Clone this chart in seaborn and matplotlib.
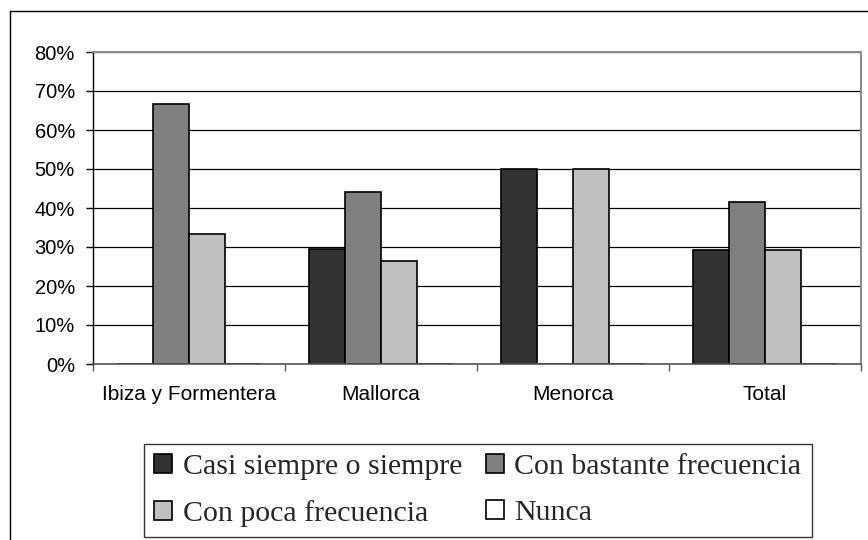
import matplotlib
matplotlib.use("Agg")
import matplotlib.pyplot as plt
import matplotlib.patches as mpatches
from matplotlib.ticker import FuncFormatter, FixedLocator
import seaborn as sns
import pandas as pd

categories = ["Ibiza y Formentera", "Mallorca", "Menorca", "Total"]
series = ["Casi siempre o siempre", "Con bastante frecuencia", "Con poca frecuencia", "Nunca"]
casi_siempre = [0.0, 29.4, 50.0, 29.3]
bastante = [66.7, 44.1, 0.0, 41.5]
poca = [33.3, 26.5, 50.0, 29.3]
nunca = [0.0, 0.0, 0.0, 0.0]
colors = ["#333333", "#808080", "#c0c0c0", "#ffffff"]
y_ticks = [0, 10, 20, 30, 40, 50, 60, 70, 80]

rows = []
for s, vals in zip(series, [casi_siempre, bastante, poca, nunca]):
    for c, v in zip(categories, vals):
        rows.append({"cat": c, "serie": s, "val": v})
df = pd.DataFrame(rows)

sns.set_theme(style="white")
plt.rcParams["font.family"] = ["Liberation Sans", "DejaVu Sans"]

fig = plt.figure(figsize=(8.68, 5.4), dpi=100)
ax = fig.add_axes([93/868, 1 - 364/540, (861 - 93)/868, (364 - 52)/540])

sns.barplot(data=df, x="cat", y="val", hue="serie", order=categories, hue_order=series,
            palette=colors, width=0.75, gap=0, saturation=1, edgecolor="black",
            linewidth=1.2, ax=ax, errorbar=None)

ax.set_ylim(0, 80)
ax.set_xlim(-0.5, len(categories) - 0.5)
ax.set_yticks(y_ticks)
ax.yaxis.set_major_formatter(FuncFormatter(lambda v, p: f"{v:.0f}%"))
ax.set_xlabel("")
ax.set_ylabel("")
ax.set_axisbelow(True)
ax.yaxis.grid(True, color="black", linewidth=0.9)
ax.xaxis.grid(False)

for side in ["top", "right"]:
    ax.spines[side].set_visible(True)
    ax.spines[side].set_color("#8c8c8c")
    ax.spines[side].set_linewidth(1.5)
ax.spines["left"].set_color("black")
ax.spines["left"].set_linewidth(1.0)
ax.spines["bottom"].set_color("#555555")
ax.spines["bottom"].set_linewidth(1.2)

ax.tick_params(axis="y", which="major", left=True, length=5, width=1, color="black",
               labelsize=14.5, pad=8, labelcolor="black")
ax.tick_params(axis="x", which="major", bottom=True, length=0, labelsize=15, pad=15,
               labelcolor="black")
ax.xaxis.set_minor_locator(FixedLocator([i - 0.5 for i in range(len(categories) + 1)]))
ax.tick_params(axis="x", which="minor", bottom=True, length=5, width=1, color="#555555")

handles, labels = ax.get_legend_handles_labels()
if ax.get_legend() is not None:
    ax.get_legend().remove()
order = [0, 2, 1, 3]
handles = [handles[i] for i in order]
labels = [labels[i] for i in order]
leg = fig.legend(handles, labels, loc="upper left",
                 bbox_to_anchor=(144/868, 1 - 444/540), bbox_transform=fig.transFigure,
                 ncol=2, frameon=True, fancybox=False, shadow=False,
                 prop={"family": "Liberation Serif", "size": 21.5},
                 handlelength=0.6, handleheight=0.6, handletextpad=0.35,
                 columnspacing=0.8, labelspacing=0.65, borderpad=0.35, borderaxespad=0)
leg.get_frame().set_edgecolor("black")
leg.get_frame().set_linewidth(1.0)
for h in leg.legend_handles:
    h.set_edgecolor("black")
    h.set_linewidth(1.2)

fig.patches.append(mpatches.Rectangle((10/868, -0.1), 1.2, (540 - 11)/540 + 0.1,
                                      transform=fig.transFigure, fill=False,
                                      edgecolor="black", linewidth=1.0))

fig.savefig("out.png", dpi=100)
